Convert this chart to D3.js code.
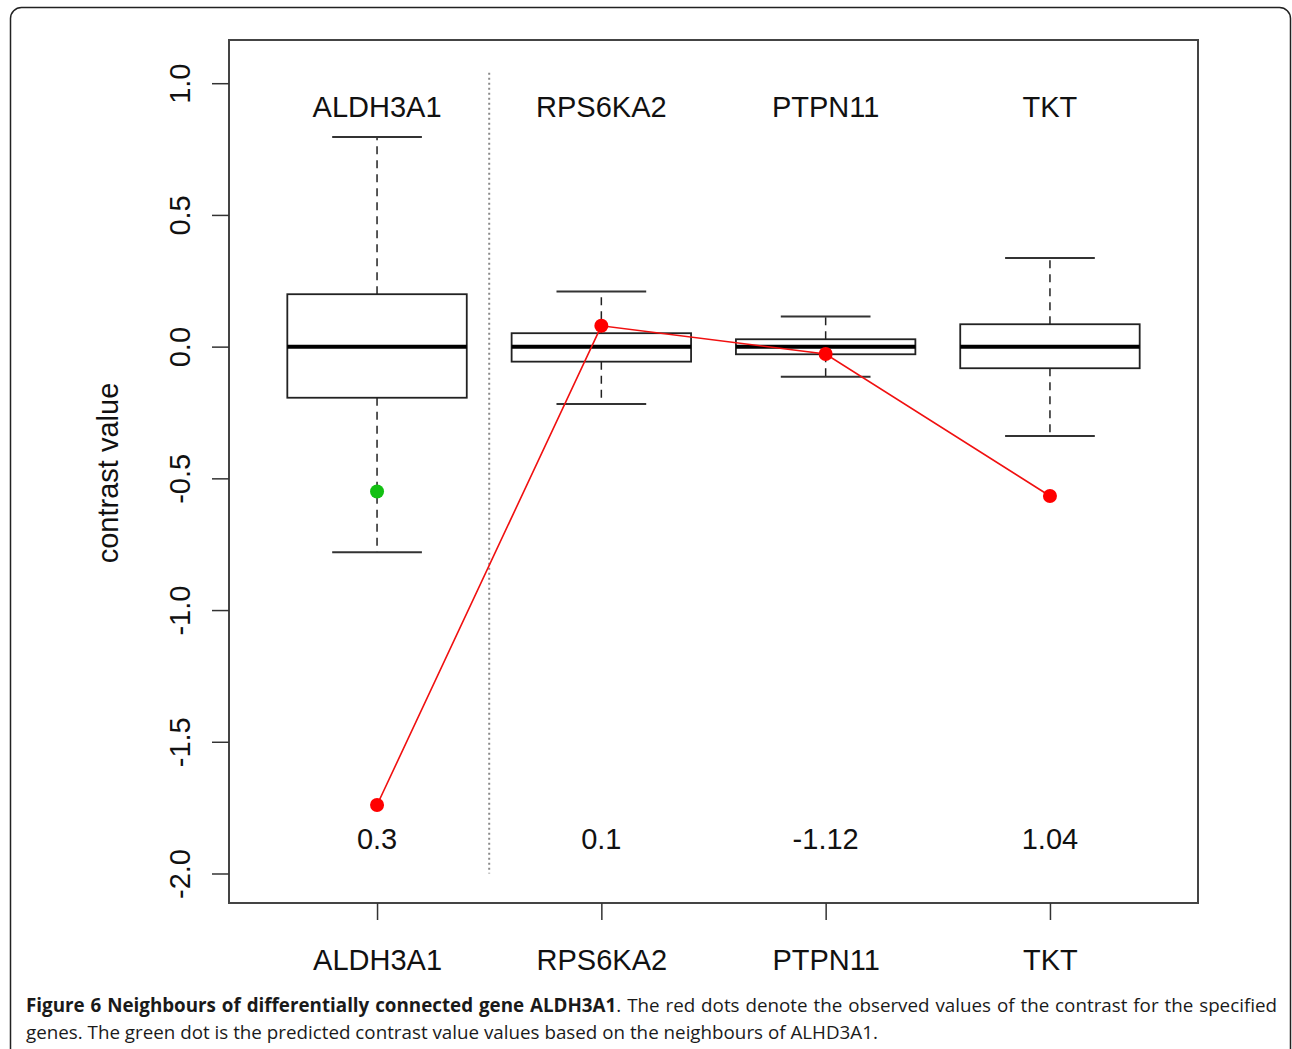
<!DOCTYPE html>
<html><head><meta charset="utf-8">
<script src="https://cdn.jsdelivr.net/npm/d3@7/dist/d3.min.js"></script>
<style>
html,body{margin:0;padding:0;background:#fff;}
svg{display:block;}
</style></head>
<body>
<svg id="chart" width="1292" height="1049"></svg>
<script>
// ---- data ----
const genes = ["ALDH3A1", "RPS6KA2", "PTPN11", "TKT"];
const whiskerLow  = [-0.781, -0.218, -0.114, -0.339];
const q1          = [-0.194, -0.057, -0.029, -0.082];
const medians     = [0.0, 0.0, 0.0, 0.0];
const q3          = [0.199, 0.051, 0.028, 0.085];
const whiskerHigh = [0.796, 0.209, 0.114, 0.336];
const observed    = [-1.740, 0.079, -0.028, -0.567];
const predicted   = [-0.550];            // green dot for ALDH3A1
const scoreLabels = ["0.3", "0.1", "-1.12", "1.04"];
const yTicks      = [1.0, 0.5, 0.0, -0.5, -1.0, -1.5, -2.0];

const svg = d3.select("#chart");
const F = "'Liberation Sans', Arial, Helvetica, sans-serif";

// outer frame
svg.append("rect").attr("x",10.5).attr("y",7.5).attr("width",1280).attr("height",1120)
  .attr("rx",11).attr("fill","none").attr("stroke","#222").attr("stroke-width",1.5);

const L=229, R=1198, T=40, B=903;
const x = d3.scaleLinear().domain([0.34, 4.66]).range([L, R]);
const y = d3.scaleLinear().domain([-2.112, 1.164]).range([B, T]);

const g = svg.append("g");

// dotted separator
g.append("line").attr("x1",x(1.5)).attr("x2",x(1.5)).attr("y1",y(1.04)).attr("y2",y(-2.0))
  .attr("stroke","#8a8a8a").attr("stroke-width",2).attr("stroke-dasharray","2,3");

// boxes
const idx = d3.range(genes.length);
const bw = 0.4, sw = 0.2;
const bx = g.selectAll("g.box").data(idx).join("g").attr("class","box");
bx.append("line").attr("x1",i=>x(i+1)).attr("x2",i=>x(i+1))
  .attr("y1",i=>y(q3[i])).attr("y2",i=>y(whiskerHigh[i]))
  .attr("stroke","#222").attr("stroke-width",1.5).attr("stroke-dasharray","8,6");
bx.append("line").attr("x1",i=>x(i+1)).attr("x2",i=>x(i+1))
  .attr("y1",i=>y(q1[i])).attr("y2",i=>y(whiskerLow[i]))
  .attr("stroke","#222").attr("stroke-width",1.5).attr("stroke-dasharray","8,6");
bx.append("line").attr("x1",i=>x(i+1-sw)).attr("x2",i=>x(i+1+sw))
  .attr("y1",i=>y(whiskerHigh[i])).attr("y2",i=>y(whiskerHigh[i]))
  .attr("stroke","#333").attr("stroke-width",2);
bx.append("line").attr("x1",i=>x(i+1-sw)).attr("x2",i=>x(i+1+sw))
  .attr("y1",i=>y(whiskerLow[i])).attr("y2",i=>y(whiskerLow[i]))
  .attr("stroke","#333").attr("stroke-width",2);
bx.append("rect").attr("x",i=>x(i+1-bw)).attr("width",i=>x(i+1+bw)-x(i+1-bw))
  .attr("y",i=>y(q3[i])).attr("height",i=>y(q1[i])-y(q3[i]))
  .attr("fill","#fff").attr("stroke","#222").attr("stroke-width",1.8);
bx.append("line").attr("x1",i=>x(i+1-bw)).attr("x2",i=>x(i+1+bw))
  .attr("y1",i=>y(medians[i])).attr("y2",i=>y(medians[i]))
  .attr("stroke","#000").attr("stroke-width",4);

// gene labels on top & score labels at bottom
g.selectAll("text.top").data(genes).join("text").attr("class","top")
  .attr("x",(d,i)=>x(i+1)).attr("y",y(0.91)).attr("dy","0.35em")
  .attr("text-anchor","middle").attr("font-family",F).attr("font-size",29).attr("fill","#111")
  .text(d=>d);
g.selectAll("text.score").data(scoreLabels).join("text").attr("class","score")
  .attr("x",(d,i)=>x(i+1)).attr("y",y(-1.869)).attr("dy","0.35em")
  .attr("text-anchor","middle").attr("font-family",F).attr("font-size",29).attr("fill","#111")
  .text(d=>d);

// red observed line + dots
const line = d3.line().x((d,i)=>x(i+1)).y(d=>y(d));
g.append("path").datum(observed).attr("d",line).attr("fill","none")
  .attr("stroke","#f01010").attr("stroke-width",1.6);
g.selectAll("circle.obs").data(observed).join("circle").attr("class","obs")
  .attr("cx",(d,i)=>x(i+1)).attr("cy",d=>y(d)).attr("r",7).attr("fill","#f00");
g.selectAll("circle.pred").data(predicted).join("circle").attr("class","pred")
  .attr("cx",(d,i)=>x(i+1)).attr("cy",d=>y(d)).attr("r",7).attr("fill","#12c012");

// plot box
svg.append("rect").attr("x",L).attr("y",T).attr("width",R-L).attr("height",B-T)
  .attr("fill","none").attr("stroke","#444").attr("stroke-width",2);

// y axis
const yAxis = d3.axisLeft(y).tickValues(yTicks).tickSize(17).tickFormat(d=>d.toFixed(1));
const ya = svg.append("g").attr("transform",`translate(${L},0)`).call(yAxis);
ya.select(".domain").remove();
ya.selectAll(".tick line").attr("stroke","#333").attr("stroke-width",1.5);
ya.selectAll(".tick text").attr("font-family",F).attr("font-size",29).attr("fill","#111")
  .attr("x",null).attr("dy",null).attr("text-anchor","middle")
  .attr("transform","translate(-49,0) rotate(-90)").attr("dy","0.35em");

// x axis
const xAxis = d3.axisBottom(x).tickValues([1,2,3,4]).tickSize(17).tickFormat(d=>genes[d-1]);
const xa = svg.append("g").attr("transform",`translate(0,${B})`).call(xAxis);
xa.select(".domain").remove();
xa.selectAll(".tick line").attr("stroke","#333").attr("stroke-width",1.5);
xa.selectAll(".tick text").attr("font-family",F).attr("font-size",29).attr("fill","#111")
  .attr("y",57).attr("dy","0.35em");

// y label
svg.append("text").attr("transform","translate(108,473) rotate(-90)")
  .attr("text-anchor","middle").attr("dy","0.35em").attr("font-family",F).attr("font-size",29)
  .attr("fill","#111").text("contrast value");

// caption
const CF = "'Open Sans', 'Noto Sans', sans-serif";
const CS = 18.8;
const c1 = svg.append("text").attr("x",26).attr("y",1012).attr("font-family",CF)
  .attr("font-size",CS).attr("fill","#1a1a1a");
c1.append("tspan").attr("font-weight","bold").text("Figure 6 Neighbours of differentially connected gene ALDH3A1");
c1.append("tspan").text(". The red dots denote the observed values of the contrast for the specified");
const w1 = c1.node().getComputedTextLength();
const spaces = (c1.text().match(/ /g)||[]).length;
c1.attr("word-spacing", Math.max(0, ((1277-26)-w1)/spaces));
svg.append("text").attr("x",26).attr("y",1039).attr("font-family",CF)
  .attr("font-size",CS).attr("fill","#1a1a1a")
  .text("genes. The green dot is the predicted contrast value values based on the neighbours of ALHD3A1.");
</script>
</body></html>
